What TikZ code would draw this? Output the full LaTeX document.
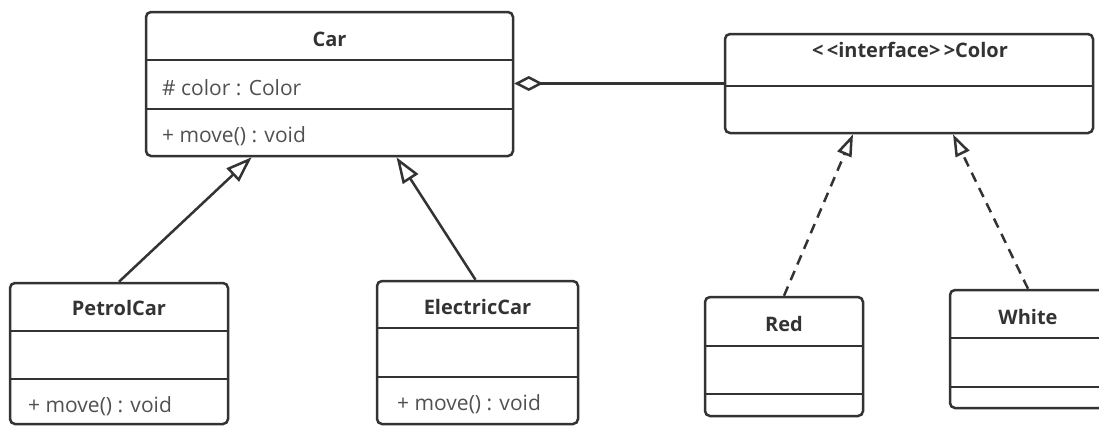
\documentclass[tikz,border=0pt]{standalone}
\usepackage{fontspec}
\setmainfont{Open Sans}
\usetikzlibrary{arrows.meta,calc}
\definecolor{ink}{HTML}{333333}
\definecolor{txt}{HTML}{505050}
\tikzstyle{cls}=[shape=rectangle,
                 draw=ink,
                 line width=2.5pt,
                 rounded corners=5pt]
\tikzstyle{divider}=[draw=ink,
                     line width=2.5pt]
\tikzstyle{ttl}=[anchor=base,
                 inner sep=0pt,
                 text=ink,
                 font=\fontsize{20}{24}\selectfont\bfseries]
\tikzstyle{mbr}=[anchor=base west,
                 inner sep=0pt,
                 text=txt,
                 font=\fontsize{21}{25}\selectfont]
\tikzstyle{inh}=[draw=ink, line width=2.5pt,
                 -{Triangle[open, fill=white, length=26pt, width=18pt]}]
\tikzstyle{impl}=[draw=ink, line width=2.5pt, dash pattern=on 10pt off 7pt,
                  -{Triangle[open, fill=white, length=22pt, width=15pt]}]
\tikzstyle{agg}=[draw=ink, line width=2.5pt,
                 -{Diamond[open, fill=white, length=29pt, width=15pt]}]

\begin{document}
\begin{tikzpicture}[x=1pt,y=-1pt]
\clip (0,0) rectangle (1099,426);

% abstract class
\node[cls, minimum width=367pt, minimum height=144pt] (car) at (329.5,84) {};
\draw[divider] (car.west |- 0,60) -- (car.east |- 0,60);
\draw[divider] (car.west |- 0,109) -- (car.east |- 0,109);
\node[ttl] (carT) at (329.5,46) {Car};
\node[mbr] (carA) at (162,95) {\# color : Color};
\node[mbr] (carM) at (162,142) {+ move() : void};

% subclasses
\node[cls, minimum width=218pt, minimum height=141pt] (petrol) at (119,353.5) {};
\draw[divider] (petrol.west |- 0,331) -- (petrol.east |- 0,331);
\draw[divider] (petrol.west |- 0,379) -- (petrol.east |- 0,379);
\node[ttl] (petrolT) at (119,315) {PetrolCar};
\node[mbr] (petrolM) at (28,412) {+ move() : void};

\node[cls, minimum width=201pt, minimum height=143pt] (electric) at (477.5,352.5) {};
\draw[divider] (electric.west |- 0,328) -- (electric.east |- 0,328);
\draw[divider] (electric.west |- 0,377) -- (electric.east |- 0,377);
\node[ttl] (electricT) at (477.5,314) {ElectricCar};
\node[mbr] (electricM) at (397,410) {+ move() : void};

% interface
\node[cls, minimum width=368pt, minimum height=99pt] (color) at (909,83.5) {};
\draw[divider] (color.west |- 0,86) -- (color.east |- 0,86);
\node[ttl] (colorT) at (910,57) {{<}\,{<}interface{>}\,{>}Color};

% implementations
\node[cls, minimum width=158pt, minimum height=119pt] (red) at (784,356.5) {};
\draw[divider] (red.west |- 0,346) -- (red.east |- 0,346);
\draw[divider] (red.west |- 0,394) -- (red.east |- 0,394);
\node[ttl] (redT) at (784,331) {Red};

\node[cls, minimum width=156pt, minimum height=118pt] (white) at (1028,349) {};
\draw[divider] (white.west |- 0,338) -- (white.east |- 0,338);
\draw[divider] (white.west |- 0,387) -- (white.east |- 0,387);
\node[ttl] (whiteT) at (1028,324) {White};

\path[inh] (petrol.north) -- (car);
\path[inh] ($(electric.north)+(-2,0)$) -- ($(car.south)+(67,0)$);
\path[agg] (color.west) -- (car.east |- color.west);
\path[impl] (red.north) -- ($(color.south)+(-56,0)$);
\path[impl] (white.north) -- ($(color.south)+(44,0)$);
\end{tikzpicture}
\end{document}
